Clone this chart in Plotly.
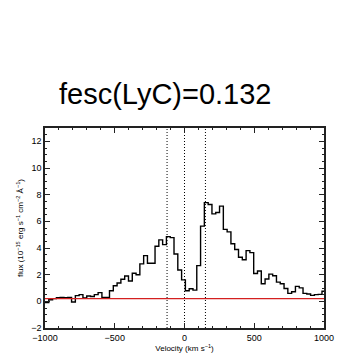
import numpy as np
import plotly.graph_objects as go

# ---- data ----
bin_width = 27.2  # km/s
v_start = -1000.0
flux = [-0.1, 0.12, 0.2, 0.28, 0.3, 0.28, 0.3, -0.05, 0.43, 0.5,
        0.26, 0.4, 0.36, 0.5, 0.65, 0.3, 0.3, 0.79, 1.17, 1.37,
        1.66, 1.9, 1.52, 2.11, 1.99, 2.81, 3.43, 2.86, 2.86, 4.13,
        4.61, 4.25, 4.85, 4.78, 3.55, 2.35, 1.61, 0.79, 0.94, 0.84,
        2.68, 5.64, 7.4, 7.26, 6.56, 6.66, 7.14, 5.4, 5.21, 4.32,
        3.89, 3.31, 3.12, 3.8, 3.65, 2.09, 2.28, 1.32, 1.68, 2.04,
        1.92, 1.44, 1.32, 0.96, 0.6, 0.72, 1.12, 1.01, 0.6, 0.55,
        0.45, 0.5, 0.52, 0.76]
continuum = 0.2
marker_velocities = [-125, 0, 150]
title_text = "fesc(LyC)=0.132"
x_ticks = [-1000, -500, 0, 500, 1000]
x_tick_labels = ["\u22121000", "\u2212500", "0", "500", "1000"]
y_ticks = [-2, 0, 2, 4, 6, 8, 10, 12]
x_range = [-1000, 1000]
y_range = [-2, 13]

edges = [v_start + i * bin_width for i in range(len(flux) + 1)]
xs = edges
ys = flux + [flux[-1]]

FONT = "Liberation Sans, Arial, Helvetica, sans-serif"
AX = "#222222"

fig = go.Figure()
fig.add_trace(go.Scatter(x=xs, y=ys, mode="lines", line=dict(shape="hv", color="black", width=1.4),
                         showlegend=False, hoverinfo="skip"))
fig.add_trace(go.Scatter(x=x_range, y=[continuum, continuum], mode="lines",
                         line=dict(color="#d42020", width=1.2), showlegend=False, hoverinfo="skip"))
for v in marker_velocities:
    fig.add_trace(go.Scatter(x=[v, v], y=y_range, mode="lines",
                             line=dict(color="black", width=1, dash="1px,2px"),
                             showlegend=False, hoverinfo="skip"))

# the page body keeps its default 8px margin, so the figure is sized to fit the window
fig.update_layout(
    width=338, height=354,
    margin=dict(l=33, r=12, t=120, b=26),
    paper_bgcolor="white", plot_bgcolor="white",
    font=dict(family=FONT, color="black"),
    annotations=[dict(text=title_text, x=0.4334, y=1.17, xref="paper", yref="paper",
                      xanchor="center", yanchor="middle", showarrow=False,
                      font=dict(size=29, family=FONT, color="black"))],
)
fig.update_xaxes(range=x_range, tickvals=x_ticks, ticktext=x_tick_labels,
                 ticks="inside", ticklen=5, tickcolor=AX, tickwidth=1,
                 minor=dict(dtick=100, ticks="inside", ticklen=2.5, tickcolor=AX),
                 showline=True, linecolor=AX, linewidth=1.5, mirror="ticks",
                 showgrid=False, zeroline=False, ticklabeloverflow="allow",
                 tickfont=dict(size=9, family=FONT),
                 title=dict(text="Velocity (km s<sup>\u22121</sup>)", font=dict(size=8, family=FONT), standoff=2))
fig.update_yaxes(range=y_range, tickvals=y_ticks,
                 ticks="inside", ticklen=5, tickcolor=AX, tickwidth=1,
                 minor=dict(dtick=0.5, ticks="inside", ticklen=2.5, tickcolor=AX),
                 showline=True, linecolor=AX, linewidth=1.5, mirror="ticks",
                 showgrid=False, zeroline=False,
                 tickfont=dict(size=9, family=FONT),
                 title=dict(text="flux (10<sup>\u221215</sup> erg s<sup>\u22121</sup> cm<sup>\u22122</sup> \u00c5<sup>\u22121</sup>)",
                            font=dict(size=8, family=FONT), standoff=6))

fig.write_html("out.html")
